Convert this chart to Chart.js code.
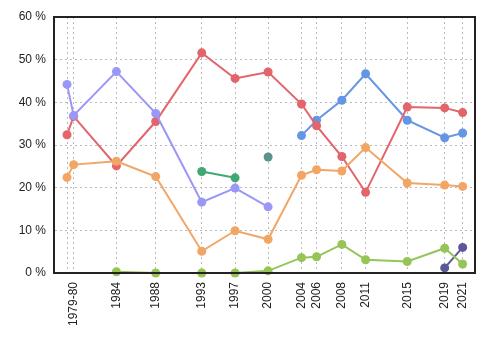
<!DOCTYPE html>
<html>
<head>
<meta charset="utf-8">
<script src="https://cdn.jsdelivr.net/npm/chart.js@4/dist/chart.umd.min.js"></script>
<style>
  html, body { margin: 0; padding: 0; background: #fff; }
  #wrap { width: 500px; height: 350px; }
</style>
</head>
<body>
<div id="wrap"><canvas id="chart"></canvas></div>
<script>
// election dates (decimal years) and the tick labels shown under them
const dates = [1978.72, 1979.43, 1984.0, 1988.2, 1993.12, 1996.68, 2000.21, 2003.78, 2005.39, 2008.09, 2010.63, 2015.08, 2019.08, 2021.0];
const tickLabels = ['', '1979-80', '1984', '1988', '1993', '1997', '2000', '2004', '2006', '2008', '2011', '2015', '2019', '2021'];

// vote share in %, null = no candidate that year
const purple = [44.2, 36.9, 47.2, 37.4, 16.6, 19.9, 15.5, null, null, null, null, null, null, null];
const orange = [22.4, 25.4, 26.2, 22.6, 5.1, 9.9, 7.9, 22.9, 24.2, 23.9, 29.4, 21.1, 20.6, 20.3];
const red = [32.4, 36.7, 25.1, 35.5, 51.6, 45.6, 47.1, 39.6, 34.5, 27.3, 18.9, 38.9, 38.7, 37.6];
const blue = [null, null, null, null, null, null, null, 32.2, 35.8, 40.5, 46.7, 35.8, 31.7, 32.8];
const green = [null, null, null, null, 23.8, 22.3, null, null, null, null, null, null, null, null];
const teal = [null, null, null, null, null, null, 27.2, null, null, null, null, null, null, null];
const lime = [null, null, 0.3, 0, 0, 0, 0.5, 3.6, 3.8, 6.7, 3.1, 2.7, 5.8, 2.1];
const indigo = [null, null, null, null, null, null, null, null, null, null, null, null, 1.2, 6.0];

const series = [
    { values: purple, color: '#9a97f7' },
    { values: orange, color: '#f2a565' },
    { values: red, color: '#e3646a' },
    { values: blue, color: '#6596e6' },
    { values: green, color: '#40a872' },
    { values: teal, color: '#5b938a' },
    { values: lime, color: '#97c457' },
    { values: indigo, color: '#5c5898' }
];

const datasets = series.map(s => ({
    data: dates.map((d, i) => ({ x: d, y: s.values[i] })).filter(p => p.y !== null),
    borderColor: s.color,
    backgroundColor: s.color,
    borderWidth: 2,
    pointRadius: 4.5,
    pointHoverRadius: 4.5,
    pointBorderWidth: 0,
    clip: false
}));

// frame around the plot area
const framePlugin = {
    id: 'frame',
    afterDraw(chart) {
        const { ctx, chartArea: a } = chart;
        ctx.save();
        ctx.strokeStyle = '#222';
        ctx.lineWidth = 2;
        ctx.strokeRect(a.left, a.top, a.right - a.left, a.bottom - a.top);
        ctx.restore();
    }
};

new Chart(document.getElementById('chart'), {
    type: 'line',
    data: { datasets },
    plugins: [framePlugin],
    options: {
        responsive: true,
        maintainAspectRatio: false,
        animation: false,
        layout: { padding: { top: 17, right: 25, left: 0, bottom: 0 } },
        plugins: { legend: { display: false }, tooltip: { enabled: false } },
        scales: {
            x: {
                type: 'linear',
                min: 1977.33,
                max: 2022.32,
                afterBuildTicks: axis => { axis.ticks = dates.map(v => ({ value: v })); },
                afterFit: axis => { axis.height = 77; },
                ticks: {
                    autoSkip: false,
                    minRotation: 90,
                    maxRotation: 90,
                    padding: 9,
                    color: '#222',
                    font: { family: "'Liberation Sans', Arial, sans-serif", size: 12 },
                    callback: (v, i) => tickLabels[i]
                },
                grid: { color: '#bbb', drawTicks: false },
                border: { color: '#222', width: 2, dash: [2, 3] }
            },
            y: {
                min: 0,
                max: 60,
                afterFit: axis => { axis.width = 54; },
                ticks: {
                    stepSize: 10,
                    padding: 8,
                    color: '#222',
                    font: { family: "'Liberation Sans', Arial, sans-serif", size: 12 },
                    callback: v => v + ' %'
                },
                grid: { color: '#bbb', drawTicks: false },
                border: { color: '#222', width: 2, dash: [2, 3] }
            }
        }
    }
});
</script>
</body>
</html>
